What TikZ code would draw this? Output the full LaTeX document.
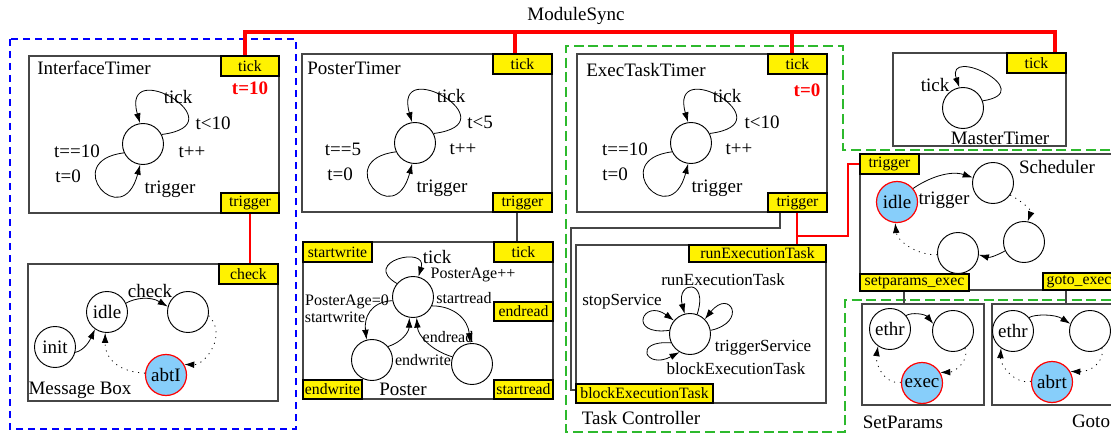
\documentclass[tikz,border=0pt]{standalone}
\usepackage{fontspec}
\setmainfont{Liberation Serif}
\usetikzlibrary{arrows.meta,fit,calc}
\definecolor{grn}{RGB}{45,185,45}
\definecolor{sky}{RGB}{135,206,250}
\definecolor{frm}{RGB}{70,70,70}
\tikzset{
  frame/.style={draw=frm, line width=0.9pt, inner sep=0pt},
  port/.style={draw=black, fill=yellow, line width=0.8pt, inner sep=0pt, font=\fontsize{11.8}{13}\selectfont},
  stnode/.style={circle, draw=black, fill=white, line width=0.7pt, minimum size=30.75pt, inner sep=0pt},
  act/.style={stnode, fill=sky, draw=red, line width=0.9pt},
  lbl/.style={inner sep=0pt},
  slbl/.style={inner sep=0pt, font=\fontsize{12}{14}\selectfont},
  tlbl/.style={inner sep=0pt, font=\fontsize{12.75}{15}\selectfont},
  rlbl/.style={inner sep=0pt, text=red, font=\fontsize{14.25}{16}\selectfont\bfseries},
  arr/.style={line width=0.6pt, -{Latex[length=7.5pt,width=5pt]}},
  dotarr/.style={arr, dash pattern=on 0.8pt off 3.6pt},
  sync/.style={draw=red, line width=2.5pt},
  redl/.style={draw=red, line width=1pt},
  grayl/.style={draw=frm, line width=0.8pt},
  bluedash/.style={draw=blue, line width=1.1pt, dash pattern=on 5.5pt off 3.5pt},
  grndash/.style={draw=grn, line width=1.1pt, dash pattern=on 7.5pt off 3.5pt},
}
\newcommand\portnode[6]{%
  \node[port, minimum width={(#4-#2)*0.75pt}, minimum height={(#5-#3)*0.75pt}]
    (#1) at ({(#2+#4)/2},{(#3+#5)/2}) {#6};}
\begin{document}
\begin{tikzpicture}[x=0.75pt,y=-0.75pt,font=\fontsize{14.25}{16}\selectfont]
\useasboundingbox (0,0) rectangle (1111,435);
\clip (0,0) rectangle (1111,435);

% groups
\draw[bluedash] (10,39) rectangle (296,429);
\draw[grndash] (1125,150) -- (843,150) -- (843,46) -- (566,46) -- (566,432) -- (845,432) -- (845,300) -- (1125,300);

\node[lbl] (msync) at (576,16) {ModuleSync};

% frames
\node[frame, fit={(29,56) (279,213)}] (itimer) {};
\node[frame, fit={(28,264) (278,401)}] (mbox) {};
\node[frame, fit={(302,54) (552,212)}] (ptimer) {};
\node[frame, fit={(303,242) (553,399)}] (poster) {};
\node[frame, fit={(577,54) (827,212)}] (etimer) {};
\node[frame, fit={(576,245) (826,403)}] (tctrl) {};
\node[frame, fit={(893,53) (1066,146)}] (mtimer) {};
\node[frame, fit={(860,154) (1125,290)}] (sched) {};
\node[frame, fit={(862,304) (984,405)}] (setp) {};
\node[frame, fit={(992,304) (1125,405)}] (gotob) {};

% ports
\portnode{itick}{221}{56}{279}{76}{tick}
\portnode{itrig}{221}{193}{279}{213}{trigger}
\portnode{mcheck}{219}{264}{278}{284}{check}
\portnode{ptick}{493}{54}{552}{74}{tick}
\portnode{ptrig}{493}{193}{552}{212}{trigger}
\portnode{pstw}{303}{242}{372}{262}{startwrite}
\portnode{potick}{494}{242}{553}{262}{tick}
\portnode{pendr}{494}{302}{553}{321}{endread}
\portnode{pendw}{303}{380}{362}{399}{endwrite}
\portnode{pstr}{494}{380}{553}{399}{startread}
\portnode{etick}{768}{54}{827}{74}{tick}
\portnode{etrig}{768}{193}{827}{212}{trigger}
\portnode{trun}{689}{245}{826}{262}{runExecutionTask}
\portnode{tblock}{576}{384}{713}{403}{blockExecutionTask}
\portnode{mtick}{1007}{53}{1066}{73}{tick}
\portnode{strig}{860}{154}{919}{174}{trigger}
\portnode{ssetp}{860}{274}{969}{291}{setparams\_exec}
\portnode{sgoto}{1043}{273}{1115}{290}{goto\_exec}

% titles
\node[lbl] (titi) at (94,68) {InterfaceTimer};
\node[lbl] (titp) at (354,68) {PosterTimer};
\node[lbl] (tite) at (646,70) {ExecTaskTimer};
\node[lbl] (titm) at (80,390) {Message Box};
\node[lbl] (titt) at (641,418) {Task Controller};
\node[lbl] (titmt) at (1000,138) {MasterTimer};
\node[lbl] (tits) at (1057,167) {Scheduler};
\node[lbl] (titsp) at (903,422) {SetParams};
\node[lbl] (titg) at (1091,421) {Goto};
\node[lbl] (titpo) at (403,389) {Poster};
\node[rlbl] (it10) at (250,88) {t=10};
\node[rlbl] (et0) at (807,90) {t=0};

% states
\node[stnode] (ic) at (143,144) {};
\node[stnode] (pc) at (415,143) {};
\node[stnode] (ec) at (691,143) {};
\node[stnode] (mc) at (963,108) {};
\node[stnode] (minit) at (55,347) {init};
\node[stnode] (midle) at (107,312) {idle};
\node[stnode] (mq) at (188,312) {};
\node[act] (mabt) at (166,375) {abtI};
\node[stnode] (pt) at (413,297) {};
\node[stnode] (pl) at (372,360) {};
\node[stnode] (pr) at (472,364) {};
\node[stnode] (tc) at (690,334) {};
\node[act] (si) at (897,202) {idle};
\node[stnode] (s1) at (993,183) {};
\node[stnode] (s2) at (1024,242) {};
\node[stnode] (s3) at (958,253) {};
\node[stnode] (e1) at (890,329) {ethr};
\node[stnode] (e2) at (953,331) {};
\node[act] (ex) at (922,383) {exec};
\node[stnode] (g1) at (1013,331) {ethr};
\node[stnode] (g2) at (1090,331) {};
\node[act] (ga) at (1052,382) {abrt};

% timer loops
\foreach \c in {ic,pc,ec}{
  \draw[arr] (\c.27) .. controls +(79,-10) and +(-20,-69) .. (\c.98);
  \draw[arr] (\c.205) .. controls +(-65,8) and +(-18,69) .. (\c.262);
}
\draw[arr] (mc.20) .. controls (1040,92) and (945,45) .. (mc.100);

% timer labels
\node[lbl] (il1) at (178,97) {tick};
\node[lbl] (il2) at (213,123) {t<10};
\node[lbl] (il3) at (192,152) {t++};
\node[lbl] (il4) at (77,151) {t==10};
\node[lbl] (il5) at (68,176) {t=0};
\node[lbl] (il6) at (170,189) {trigger};
\node[lbl] (pl1) at (451,96) {tick};
\node[lbl] (pl2) at (480,122) {t<5};
\node[lbl] (pl3) at (463,149) {t++};
\node[lbl] (pl4) at (343,149) {t==5};
\node[lbl] (pl5) at (340,174) {t=0};
\node[lbl] (pl6) at (442,188) {trigger};
\node[lbl] (el1) at (727,96) {tick};
\node[lbl] (el2) at (762,122) {t<10};
\node[lbl] (el3) at (739,149) {t++};
\node[lbl] (el4) at (625,149) {t==10};
\node[lbl] (el5) at (615,174) {t=0};
\node[lbl] (el6) at (717,188) {trigger};
\node[lbl] (ml1) at (935,85) {tick};

% message box
\draw[arr] (minit.-15) .. controls (85,350) and (90,340) .. (midle.235);
\draw[arr] (midle.25) .. controls (135,298) and (150,296) .. (mq.165);
\draw[dotarr] (mq.-10) .. controls (228,335) and (205,365) .. (mabt.30);
\draw[dotarr] (mabt.175) .. controls (120,372) and (105,360) .. (midle.-95);
\node[lbl] (mlc) at (150,291) {check};

% poster
\draw[arr] (pt.140) .. controls (360,262) and (428,245) .. (pt.75);
\draw[arr] (pt.190) .. controls (370,302) and (364,318) .. (pl.105);
\draw[arr] (pl.40) .. controls (402,342) and (409,332) .. (pt.-100);
\draw[arr] (pt.-25) .. controls (455,306) and (468,320) .. (pr.95);
\draw[arr] (pr.160) .. controls (430,350) and (418,335) .. (pt.-80);
\node[lbl] (pol1) at (437,257) {tick};
\node[slbl] (pol2) at (473,275) {PosterAge++};
\node[slbl] (pol3) at (347,302) {PosterAge=0};
\node[slbl] (pol4) at (335,317) {startwrite};
\node[slbl] (pol5) at (464,298) {startread};
\node[slbl] (pol6) at (448,337) {endread};
\node[slbl] (pol7) at (423,360) {endwrite};

% task controller
\draw[arr] (tc.70) .. controls (709,278) and (676,281) .. (tc.105);
\draw[arr] (tc.10) .. controls (748,322) and (730,288) .. (tc.45);
\draw[arr] (tc.170) .. controls (627,336) and (643,298) .. (tc.140);
\draw[arr] (tc.205) .. controls (632,340) and (646,370) .. (tc.240);
\node[tlbl] (tl1) at (723,280) {runExecutionTask};
\node[tlbl] (tl2) at (622,302) {stopService};
\node[tlbl] (tl3) at (763,348) {triggerService};
\node[tlbl] (tl4) at (736,369) {blockExecutionTask};

% scheduler
\draw[arr] (si.40) .. controls (928,178) and (950,170) .. (s1.165);
\draw[dotarr] (s1.-35) .. controls (1020,200) and (1032,210) .. (s2.80);
\draw[arr] (s2.205) .. controls (1000,254) and (990,258) .. (s3.-5);
\draw[dotarr] (s3.185) .. controls (915,255) and (897,240) .. (si.-95);
\node[lbl] (sl1) at (944,200) {trigger};

% setparams / goto
\draw[arr] (e1.40) .. controls (912,312) and (925,314) .. (e2.160);
\draw[dotarr] (e2.-55) .. controls (970,360) and (955,372) .. (ex.30);
\draw[dotarr] (ex.178) .. controls (885,385) and (875,365) .. (e1.235);
\draw[arr] (g1.40) .. controls (1035,314) and (1055,314) .. (g2.160);
\draw[dotarr] (g2.-55) .. controls (1105,362) and (1090,372) .. (ga.30);
\draw[dotarr] (ga.178) .. controls (1015,385) and (1000,365) .. (g1.235);

% module sync
\coordinate (b1) at (245,32);
\coordinate (b2) at (515,32);
\coordinate (b3) at (792,32);
\coordinate (b4) at (1055,32);
\draw[sync] (b1 |- itick.north) -- (b1) -- (b4) -- (b4 |- mtick.north);
\draw[sync] (b2) -- (b2 |- ptick.north);
\draw[sync] (b3) -- (b3 |- etick.north);

% other connections
\draw[redl] (itrig.south) -- (itrig.south |- mcheck.north);
\coordinate (pj) at (517,0);
\draw[grayl] (pj |- ptrig.south) -- (pj |- potick.north);
\coordinate (eg) at (780,228);
\coordinate (eg2) at (571,228);
\coordinate (eg3) at (571,390);
\draw[grayl] (eg |- etrig.south) -- (eg) -- (eg2) -- (eg3) -- (eg3 -| tblock.west);
\coordinate (er) at (797,236);
\coordinate (er2) at (848,236);
\draw[redl] (er |- etrig.south) -- (er |- trun.north);
\draw[redl] (er) -- (er2) |- (strig.west);
\coordinate (sp) at (904,0);
\draw[grayl] (sp |- ssetp.south) -- (sp |- setp.north);
\coordinate (sg) at (1066,0);
\draw[grayl] (sg |- sgoto.south) -- (sg |- gotob.north);
\end{tikzpicture}
\end{document}
